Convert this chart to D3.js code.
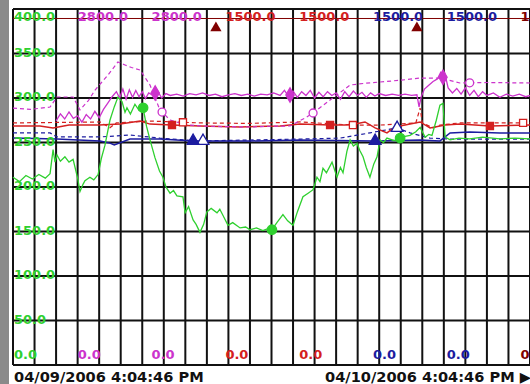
<!DOCTYPE html>
<html>
<head>
<meta charset="utf-8">
<script src="https://cdn.jsdelivr.net/npm/d3@7"></script>
<style>
  body { margin: 0; background: #fff; }
  svg { display: block; }
  text { font-family: "DejaVu Sans", Verdana, sans-serif; font-weight: bold; }
</style>
</head>
<body>
<div id="chart"></div>
<script>
// time axis: hours after 04/09/2006 4:04:46 PM
const hourTicks = d3.range(0, 25);
const timeLabels = ['04/09/2006 4:04:46 PM', '04/10/2006 4:04:46 PM \u25B6'];

// pen scales (max of each pen), left to right
const penMax = [400, 2800, 2800, 1500, 1500, 1500, 1500, 1500];
const penColors = ['#2fd02f', '#cc33cc', '#cc33cc', '#d42020', '#d42020', '#1c1ca0', '#1c1ca0', '#800000'];

// pen 1 - green, 0..400
const greenData = [[0, 211], [0.3, 206], [0.6, 213], [0.9, 209], [1.2, 214], [1.5, 210], [1.72, 215], [1.86, 242], [1.95, 228],
  [2.04, 236], [2.2, 229], [2.41, 234], [2.6, 228], [2.79, 231], [3.0, 210], [3.11, 195], [3.25, 203], [3.34, 207],
  [3.57, 211], [3.75, 208], [3.95, 214], [4.1, 232], [4.27, 247], [4.5, 275], [4.7, 290], [4.87, 301], [5.06, 296],
  [5.2, 284], [5.29, 289], [5.45, 282], [5.66, 293], [5.85, 286], [6.04, 289], [6.2, 268], [6.36, 253], [6.59, 233],
  [6.8, 218], [6.96, 211], [7.1, 200], [7.29, 193], [7.45, 196], [7.61, 190], [7.89, 189], [7.99, 171], [8.15, 178],
  [8.36, 163], [8.5, 158], [8.68, 149], [8.85, 158], [9.0, 172], [9.2, 176], [9.47, 171], [9.6, 175], [9.75, 168],
  [9.98, 157], [10.2, 160], [10.54, 154], [10.8, 155], [11.0, 152], [11.3, 154], [11.6, 151], [11.8, 153], [12.02, 152],
  [12.25, 160], [12.53, 169], [12.75, 162], [13.0, 157], [13.2, 172], [13.46, 189], [13.7, 193], [13.93, 197],
  [14.11, 211], [14.25, 206], [14.39, 221], [14.55, 216], [14.81, 228], [15.04, 211], [15.2, 222], [15.32, 216],
  [15.5, 240], [15.65, 253], [15.8, 246], [15.97, 249], [16.1, 241], [16.25, 234], [16.4, 222], [16.57, 211],
  [16.75, 226], [16.9, 234], [17.04, 253], [17.2, 250], [17.36, 255], [17.7, 252], [17.97, 255], [18.2, 257],
  [18.43, 258], [18.7, 262], [18.9, 267], [19.13, 256], [19.3, 259], [19.45, 258], [19.65, 275], [19.82, 292],
  [19.96, 294], [20.06, 256], [20.29, 253], [20.7, 255], [21.2, 254], [21.8, 256], [22.6, 254], [23.3, 255], [24, 254]];
const greenMarks = [6.04, 12.02, 17.97];

// pen 2 - magenta, 0..2800
const magentaData = [[2.0, 1920], [2.2, 1975], [2.4, 1935], [2.6, 1990], [2.8, 1940], [3.0, 1960], [3.2, 1910], [3.4, 1970],
  [3.6, 1935], [3.8, 1995], [4.0, 1945], [4.2, 2010], [4.4, 2060], [4.6, 2110], [4.8, 2150], [4.95, 2100], [5.1, 2170],
  [5.25, 2090], [5.4, 2165], [5.55, 2105], [5.7, 2160], [5.85, 2110], [6.0, 2150], [6.15, 2095], [6.3, 2140], [6.5, 2120],
  [6.7, 2160], [6.9, 2100], [7.1, 2135], [7.3, 2120], [7.6, 2130], [7.9, 2115], [8.2, 2135], [8.5, 2125], [8.8, 2140],
  [9.1, 2120], [9.4, 2130], [9.7, 2110], [10.0, 2125], [10.3, 2135], [10.6, 2120], [10.9, 2130], [11.2, 2115], [11.5, 2130],
  [11.8, 2125], [12.1, 2140], [12.4, 2120], [12.6, 2160], [12.8, 2110], [13.0, 2155], [13.2, 2105], [13.4, 2150],
  [13.6, 2120], [13.8, 2160], [14.0, 2100], [14.2, 2145], [14.4, 2110], [14.6, 2150], [14.8, 2120], [15.0, 2140],
  [15.2, 2090], [15.4, 2150], [15.6, 2110], [15.8, 2155], [16.0, 2120], [16.2, 2145], [16.4, 2105], [16.6, 2140],
  [16.8, 2115], [17.0, 2135], [17.3, 2120], [17.6, 2130], [17.9, 2120], [18.2, 2130], [18.5, 2120], [18.75, 2125],
  [18.85, 2030], [18.95, 2110], [19.1, 2170], [19.3, 2200], [19.5, 2230], [19.7, 2250], [19.85, 2300], [19.95, 2260],
  [20.05, 2290], [20.2, 2180], [20.4, 2140], [20.6, 2175], [20.8, 2130], [21.0, 2180], [21.2, 2120], [21.4, 2160],
  [21.6, 2110], [21.8, 2150], [22.0, 2120], [22.3, 2140], [22.6, 2105], [22.9, 2130], [23.2, 2115], [23.5, 2130],
  [23.8, 2110], [24, 2120]];
const magentaMarks = [6.6, 12.86, 19.96];

// pen 3 - magenta dashed, 0..2800
const magenta2Data = [[0, 2021], [0.8, 2010], [1.72, 2029], [2.04, 2108], [2.79, 2108], [3.11, 2006], [3.5, 2080],
  [3.81, 2163], [4.1, 2220], [4.41, 2281], [4.87, 2383], [5.2, 2360], [5.5, 2340], [5.9, 2320], [6.36, 2202],
  [6.82, 2006], [7.29, 1927], [8.0, 1890], [8.68, 1880], [9.8, 1875], [11.0, 1872], [12.0, 1878], [12.86, 1880],
  [13.56, 1943], [13.93, 1982], [14.72, 2084], [15.65, 2202], [16.3, 2215], [17.04, 2226], [18.0, 2240], [18.9, 2257],
  [19.82, 2257], [20.75, 2218], [22.0, 2222], [24, 2218]];
const magenta2Marks = [6.92, 13.93, 21.2];

// pen 4 - red, 0..1500
const redData = [[0, 1007], [1.25, 1007], [1.86, 999], [2.6, 1011], [4.0, 1011], [4.97, 1015], [5.9, 1028], [6.36, 1015],
  [7.38, 1011], [8.68, 1007], [10.54, 1003], [12.4, 1007], [13.32, 1015], [14.72, 1011], [15.41, 1011], [15.88, 1015],
  [16.34, 1024], [16.81, 999], [17.36, 978], [17.73, 1003], [18.2, 1011], [18.9, 1024], [19.36, 999], [20.06, 1011],
  [20.75, 1015], [22.14, 1007], [24, 1011]];
const redMarks = [7.38, 14.72, 22.14];

// pen 5 - red dashed, 0..1500
const red2Data = [[0, 1020], [2.0, 1022], [4.04, 1024], [4.5, 1000], [4.8, 1020], [6.36, 1028], [8.68, 1020], [11.0, 1018],
  [13.32, 1024], [15.0, 1015], [15.78, 1011], [17.04, 1011], [18.7, 1020], [18.9, 1083], [19.0, 1020], [19.5, 999],
  [19.82, 1011], [20.75, 1020], [23.68, 1020], [24, 1020]];
const red2Marks = [7.89, 15.78, 23.68];

// pen 6 - navy, 0..1500
const blueData = [[0, 956], [2.04, 952], [4.04, 944], [4.5, 935], [4.7, 927], [5.43, 952], [6.82, 952], [8.36, 944],
  [11.0, 944], [13.32, 948], [16.81, 944], [18.9, 948], [19.82, 944], [20.29, 978], [21.2, 982], [22.6, 978], [24, 978]];
const blueMarks = [8.36, 16.81];

// pen 7 - navy dashed, 0..1500
const blue2Data = [[0, 978], [1.72, 978], [2.04, 961], [4.04, 961], [5.43, 969], [6.82, 956], [8.68, 944], [11.0, 948],
  [13.32, 952], [15.18, 956], [16.57, 978], [17.83, 999], [18.43, 978], [19.36, 956], [20.29, 952], [24, 952]];
const blue2Marks = [8.82, 17.83];

// pen 8 - dark red, 0..1500
const darkRedData = [[0, 1460], [24, 1460]];
// event markers hanging under the top edge
const eventMarks = [9.42, 18.75];

const width = 530, height = 384;
const plotLeft = 13, plotRight = 530, plotTop = 9, plotBottom = 365;

const svg = d3.select('#chart')
  .append('svg')
  .attr('width', width)
  .attr('height', height);

svg.append('rect').attr('width', width).attr('height', height).attr('fill', '#fff');
// grey frame on the left
svg.append('rect').attr('x', 0).attr('y', 0).attr('width', 9).attr('height', height).attr('fill', '#8a8a8a');

const x = d3.scaleLinear().domain([0, 24]).range([plotLeft, plotRight]);
const yScales = penMax.map(m => d3.scaleLinear().domain([0, m]).range([plotBottom, plotTop]));
const yGreen = yScales[0];

// grid
svg.append('g').selectAll('line')
  .data(hourTicks)
  .enter().append('line')
  .attr('x1', d => x(d)).attr('x2', d => x(d))
  .attr('y1', plotTop).attr('y2', plotBottom)
  .attr('stroke', '#111').attr('stroke-width', 2);

svg.append('g').selectAll('line')
  .data(yGreen.ticks(8))
  .enter().append('line')
  .attr('x1', plotLeft).attr('x2', plotRight)
  .attr('y1', d => yGreen(d)).attr('y2', d => yGreen(d))
  .attr('stroke', '#111').attr('stroke-width', 2);

const plot = svg.append('g');

function drawPen(data, pen, dashed, w) {
  const y = yScales[pen];
  const line = d3.line().x(d => x(d[0])).y(d => y(d[1]));
  plot.append('path')
    .datum(data)
    .attr('d', line)
    .attr('fill', 'none')
    .attr('stroke', penColors[pen])
    .attr('stroke-width', w)
    .attr('stroke-dasharray', dashed ? '4,3' : null);
}

// value on a pen at a given hour (for markers)
function valueAt(data, h) {
  const i = d3.bisector(d => d[0]).left(data, h);
  if (i <= 0) return data[0][1];
  if (i >= data.length) return data[data.length - 1][1];
  const a = data[i - 1], b = data[i];
  return a[1] + (b[1] - a[1]) * (h - a[0]) / (b[0] - a[0]);
}

function drawMarks(data, marks, pen, shape, hollow, size) {
  const y = yScales[pen];
  plot.append('g').selectAll('path')
    .data(marks)
    .enter().append('path')
    .attr('d', d3.symbol().type(shape).size(size))
    .attr('transform', d => `translate(${x(d)},${y(valueAt(data, d))})`)
    .attr('fill', hollow ? '#fff' : penColors[pen])
    .attr('stroke', penColors[pen])
    .attr('stroke-width', 1.3);
}

drawPen(darkRedData, 7, false, 1);
drawPen(blue2Data, 6, true, 1.2);
drawPen(blueData, 5, false, 1.5);
drawPen(red2Data, 4, true, 1.2);
drawPen(redData, 3, false, 1.5);
drawPen(magenta2Data, 2, true, 1.2);
drawPen(magentaData, 1, false, 1.3);
drawPen(greenData, 0, false, 1.3);

drawMarks(blue2Data, blue2Marks, 6, d3.symbolTriangle, true, 60);
drawMarks(blueData, blueMarks, 5, d3.symbolTriangle, false, 60);
drawMarks(red2Data, red2Marks, 4, d3.symbolSquare, true, 50);
drawMarks(redData, redMarks, 3, d3.symbolSquare, false, 50);
drawMarks(magenta2Data, magenta2Marks, 2, d3.symbolCircle, true, 50);
drawMarks(magentaData, magentaMarks, 1, d3.symbolDiamond, false, 60);
drawMarks(greenData, greenMarks, 0, d3.symbolCircle, false, 70);

plot.append('g').selectAll('path')
  .data(eventMarks)
  .enter().append('path')
  .attr('d', d3.symbol().type(d3.symbolTriangle).size(55))
  .attr('transform', d => `translate(${x(d)},28)`)
  .attr('fill', penColors[7]);

// frame lines
svg.append('line').attr('x1', plotLeft).attr('x2', plotRight).attr('y1', plotTop).attr('y2', plotTop).attr('stroke', '#111').attr('stroke-width', 2);
svg.append('line').attr('x1', plotLeft).attr('x2', plotRight).attr('y1', plotBottom).attr('y2', plotBottom).attr('stroke', '#111').attr('stroke-width', 2);

// green value labels along the left
const fmt = d3.format('.1f');
svg.append('g').selectAll('text')
  .data(yGreen.ticks(8).filter(d => d > 0 && d < 400))
  .enter().append('text')
  .attr('x', 14)
  .attr('y', d => yGreen(d) + 3)
  .attr('fill', penColors[0])
  .attr('font-size', 13)
  .text(d => fmt(d));

// pen scale labels, top (max) and bottom (min)
const colX = penMax.map((m, i) => i === 0 ? 14 : 4 + 73.8 * i);
svg.append('g').selectAll('text')
  .data(penMax)
  .enter().append('text')
  .attr('x', (d, i) => colX[i])
  .attr('y', 21)
  .attr('fill', (d, i) => penColors[i])
  .attr('font-size', 13)
  .text(d => fmt(d));

svg.append('g').selectAll('text')
  .data(penMax)
  .enter().append('text')
  .attr('x', (d, i) => colX[i])
  .attr('y', 359)
  .attr('fill', (d, i) => penColors[i])
  .attr('font-size', 13)
  .text(d => fmt(0));

// time labels
svg.append('text').attr('x', 14).attr('y', 382).attr('font-size', 14.6).attr('fill', '#111').text(timeLabels[0]);
svg.append('text').attr('x', 325).attr('y', 382).attr('font-size', 14.6).attr('fill', '#111').text(timeLabels[1]);
</script>
</body>
</html>
